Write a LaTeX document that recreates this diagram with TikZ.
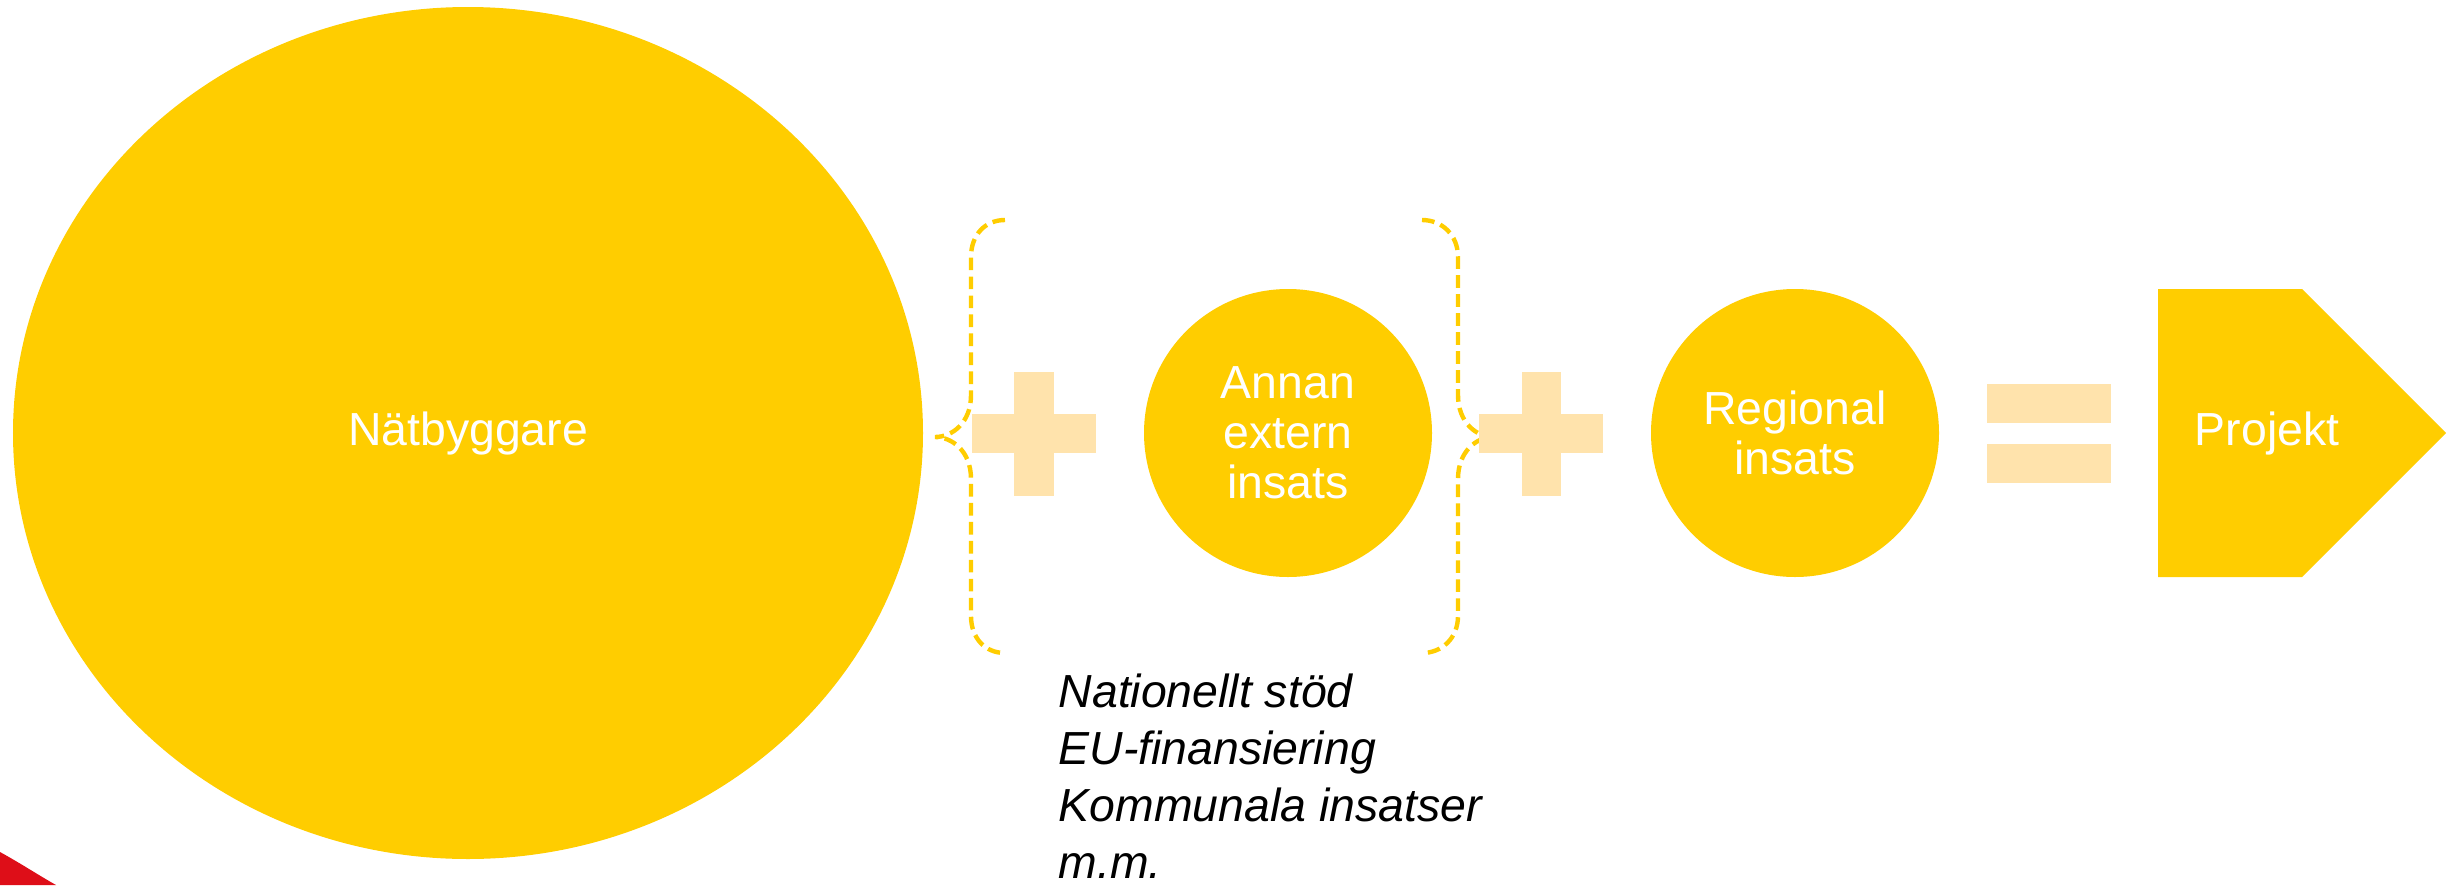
\documentclass[tikz,border=0pt]{standalone}
\usepackage{fontspec}
\setmainfont{Liberation Sans}
\usetikzlibrary{shapes.geometric}
\definecolor{sunflower}{RGB}{255, 205, 0}
\definecolor{peach}{RGB}{255, 227, 172}
\definecolor{cherry}{RGB}{222, 14, 24}

\begin{document}
\begin{tikzpicture}[
    blob/.style={ellipse, fill=sunflower, text=white, inner sep=0pt, align=center,
                 font=\fontsize{13.2}{14.2}\selectfont},
    bracket/.style={color=sunflower, line width=1.25pt, dash pattern=on 3.6pt off 1.8pt}
  ]
            \useasboundingbox (0.00, 0.00) rectangle (24.53, 8.85);
            % Corner of red shape
            \fill[cherry] (0.00, 0.33) .. controls (0.20, 0.22) and (0.40, 0.09) .. (0.56, 0.00) -- (0.00, 0.00) -- cycle;
            % Builders
            \node[blob, minimum width=9.10cm, minimum height=8.52cm] (natbyggare) at ( 4.68, 4.52) {Nätbyggare};
            % Plus one
            \fill[peach] ( 9.72, 4.32) rectangle (10.96, 4.71);
            \fill[peach] (10.14, 3.89) rectangle (10.54, 5.13);
            % Other external
            \node[blob, minimum size=2.88cm] (annan) at (12.88, 4.52) {Annan\\extern\\insats};
            % Braces round it
            \draw[bracket] (10.05, 6.65) .. controls ( 9.85, 6.65) and ( 9.71, 6.50) .. ( 9.71, 6.28) -- ( 9.71, 4.90)
                 .. controls ( 9.71, 4.62) and ( 9.52, 4.48) .. ( 9.35, 4.48)
                 .. controls ( 9.52, 4.48) and ( 9.71, 4.34) .. ( 9.71, 4.06)
                 -- ( 9.71, 2.69) .. controls ( 9.71, 2.47) and ( 9.85, 2.32) .. (10.05, 2.32);
            \draw[bracket] (14.22, 6.65) .. controls (14.42, 6.65) and (14.58, 6.50) .. (14.58, 6.28) -- (14.58, 4.90)
                 .. controls (14.58, 4.62) and (14.77, 4.48) .. (14.93, 4.48)
                 .. controls (14.77, 4.48) and (14.58, 4.34) .. (14.58, 4.06)
                 -- (14.58, 2.69) .. controls (14.58, 2.47) and (14.42, 2.32) .. (14.22, 2.32);
            \node[anchor=north west, inner sep=0pt, align=left, text=black,
                  font=\fontsize{13.2}{16.2}\selectfont\itshape] (stod) at (10.58, 2.12)
                 {Nationellt stöd\\EU-finansiering\\Kommunala insatser\\m.m.};
            % Plus two
            \fill[peach] (14.79, 4.32) rectangle (16.03, 4.71);
            \fill[peach] (15.22, 3.89) rectangle (15.61, 5.13);
            % Regional
            \node[blob, minimum size=2.88cm] (regional) at (17.95, 4.52) {Regional\\insats};
            % Equals
            \fill[peach] (19.87, 4.62) rectangle (21.11, 5.01);
            \fill[peach] (19.87, 4.02) rectangle (21.11, 4.41);
            % Project
            \fill[sunflower] (21.58, 3.08) -- (21.58, 5.96) -- (23.02, 5.96) -- (24.46, 4.52) -- (23.02, 3.08) -- cycle;
            \node[text=white, font=\fontsize{13.2}{14.2}\selectfont] (projekt) at (22.67, 4.52) {Projekt};
\end{tikzpicture}
\end{document}
